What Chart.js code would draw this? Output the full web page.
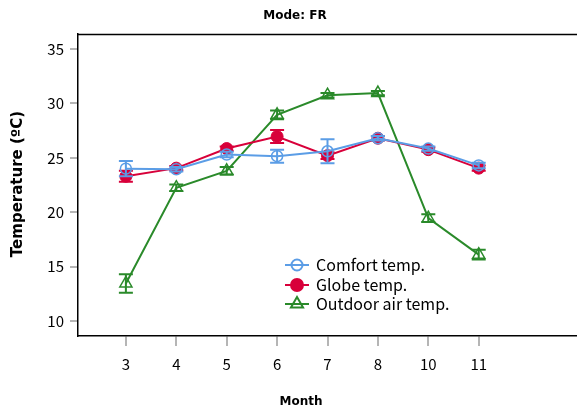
<!DOCTYPE html>
<html>
<head>
<meta charset="utf-8">
<script src="https://cdn.jsdelivr.net/npm/chart.js@4.4.0/dist/chart.umd.min.js"></script>
<style>
  body { margin: 0; background: #fff; }
  #wrap { width: 577px; height: 410px; }
</style>
</head>
<body>
<div id="wrap"><canvas id="chart" width="577" height="410"></canvas></div>
<script>
// months on the x axis (equally spaced, 9 is missing)
const months = ["3", "4", "5", "6", "7", "8", "10", "11"];
const yTicks = [10, 15, 20, 25, 30, 35];

const comfort = [24.0, 23.95, 25.3, 25.15, 25.6, 26.8, 25.85, 24.3];
const comfortErr = [0.7, 0.2, 0.25, 0.6, 1.1, 0.2, 0.2, 0.25];
const globe = [23.3, 24.05, 25.85, 26.95, 25.2, 26.8, 25.75, 24.05];
const globeErr = [0.5, 0.2, 0.2, 0.6, 0.3, 0.2, 0.2, 0.25];
const outdoor = [13.45, 22.25, 23.8, 28.95, 30.75, 30.95, 19.45, 16.1];
const outdoorErr = [0.85, 0.3, 0.35, 0.4, 0.2, 0.2, 0.35, 0.45];

const seriesNames = ["Comfort temp.", "Globe temp.", "Outdoor air temp."];
const blue = "#5b9de6", red = "#d8003a", green = "#2a8a2a";
const fontTick = "'Noto Sans CJK JP', 'Noto Sans', sans-serif";
const fontBold = "'DejaVu Sans', sans-serif";

function toPoints(vals) {
    return vals.map((v, i) => ({ x: i, y: v }));
}

// error bars drawn just before each dataset, using the chart's scales
const errorBars = {
    id: "errorBars",
    beforeDatasetDraw(chart, args) {
        const ds = chart.data.datasets[args.index];
        if (!ds.err) return;
        const xs = chart.scales.x, ys = chart.scales.y;
        const ctx = chart.ctx;
        ctx.save();
        ctx.strokeStyle = ds.borderColor;
        ctx.lineWidth = 2;
        ds.data.forEach((p, i) => {
            const x = xs.getPixelForValue(p.x);
            const top = ys.getPixelForValue(p.y + ds.err[i]);
            const bot = ys.getPixelForValue(p.y - ds.err[i]);
            ctx.beginPath();
            ctx.moveTo(x, top); ctx.lineTo(x, bot);
            ctx.moveTo(x - 7, top); ctx.lineTo(x + 7, top);
            ctx.moveTo(x - 7, bot); ctx.lineTo(x + 7, bot);
            ctx.stroke();
        });
        ctx.restore();
    }
};

// titles, top frame line and legend inside the plot
const decorations = {
    id: "decorations",
    afterDraw(chart) {
        const ctx = chart.ctx;
        const area = chart.chartArea;
        ctx.save();
        ctx.strokeStyle = "#000";
        ctx.lineWidth = 1.5;
        ctx.beginPath();
        ctx.moveTo(area.left, area.top + 0.5);
        ctx.lineTo(area.right, area.top + 0.5);
        ctx.stroke();

        ctx.fillStyle = "#000";
        ctx.textAlign = "center";
        ctx.textBaseline = "middle";
        ctx.font = "bold 12px " + fontBold;
        ctx.fillText("Mode: FR", 295, 16);
        ctx.fillText("Month", 301, 402);

        ctx.save();
        ctx.translate(18, 184);
        ctx.rotate(-Math.PI / 2);
        ctx.font = "bold 15px " + fontBold;
        ctx.fillText("Temperature (\u00baC)", 0, 0);
        ctx.restore();

        // legend
        const rowsY = [265, 285, 304];
        chart.data.datasets.forEach((ds, i) => {
            const y = rowsY[i];
            ctx.strokeStyle = ds.borderColor;
            ctx.lineWidth = 2;
            ctx.beginPath();
            ctx.moveTo(285, y); ctx.lineTo(309, y);
            ctx.stroke();
            ctx.fillStyle = ds.pointBackgroundColor;
            Chart.helpers.drawPoint(ctx, {
                pointStyle: ds.pointStyle, radius: ds.pointRadius,
                rotation: 0, borderWidth: ds.pointBorderWidth
            }, 297, y);
            ctx.fillStyle = "#000";
            ctx.textAlign = "left";
            ctx.font = "16px " + fontTick;
            ctx.fillText(seriesNames[i], 316, y);
        });
        ctx.restore();
    }
};

new Chart(document.getElementById("chart"), {
    type: "line",
    data: {
        datasets: [
            {
                label: seriesNames[0], data: toPoints(comfort), err: comfortErr,
                borderColor: blue, borderWidth: 2,
                pointStyle: "circle", pointRadius: 5.5, pointBorderWidth: 1.5,
                pointBorderColor: blue, pointBackgroundColor: "rgba(0,0,0,0)"
            },
            {
                label: seriesNames[1], data: toPoints(globe), err: globeErr,
                borderColor: red, borderWidth: 2,
                pointStyle: "circle", pointRadius: 6, pointBorderWidth: 1,
                pointBorderColor: red, pointBackgroundColor: red
            },
            {
                label: seriesNames[2], data: toPoints(outdoor), err: outdoorErr,
                borderColor: green, borderWidth: 2,
                pointStyle: "triangle", pointRadius: 7, pointBorderWidth: 1.5,
                pointBorderColor: green, pointBackgroundColor: "rgba(0,0,0,0)"
            }
        ]
    },
    options: {
        responsive: false,
        animation: false,
        devicePixelRatio: 1,
        layout: { autoPadding: false, padding: { top: 34, left: 0, right: 0, bottom: 0 } },
        plugins: { legend: { display: false }, tooltip: { enabled: false } },
        scales: {
            x: {
                type: "linear",
                min: -0.95, max: 8.95,
                afterBuildTicks: s => { s.ticks = months.map((m, i) => ({ value: i })); },
                afterFit: s => { s.height = 74; s.paddingLeft = 0; s.paddingRight = 0; },
                ticks: {
                    callback: v => months[v],
                    color: "#000", font: { size: 15, family: fontTick }, padding: 9,
                    maxRotation: 0
                },
                grid: { drawOnChartArea: false, color: "#b5b5b5", lineWidth: 2, tickLength: 10 },
                border: { color: "#000", width: 1.5 }
            },
            y: {
                min: 8.62, max: 36.38,
                afterBuildTicks: s => { s.ticks = yTicks.map(v => ({ value: v })); },
                afterFit: s => { s.width = 78; s.paddingTop = 0; s.paddingBottom = 0; },
                ticks: {
                    color: "#000", font: { size: 15, family: fontTick }, padding: 6
                },
                grid: { drawOnChartArea: false, color: "#b5b5b5", lineWidth: 2, tickLength: 8 },
                border: { color: "#000", width: 1.5 }
            }
        }
    },
    plugins: [errorBars, decorations]
});
</script>
</body>
</html>
